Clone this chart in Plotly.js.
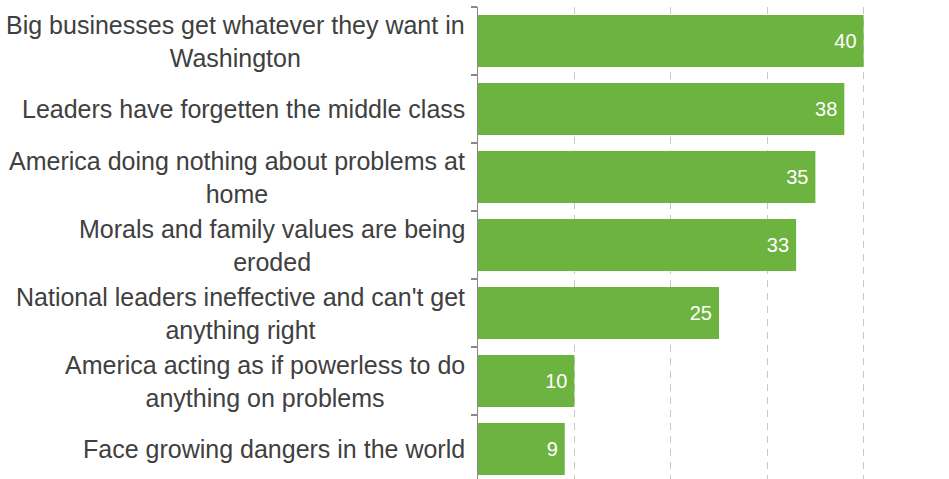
<!DOCTYPE html>
<html>
<head>
<meta charset="utf-8">
<script src="https://cdn.plot.ly/plotly-3.0.1.min.js"></script>
<style>html,body{margin:0;padding:0;background:#fff;}#chart{width:949px;height:479px;}</style>
</head>
<body>
<div id="chart"></div>
<script>
var categories = [
  "Big businesses get whatever they want in<br>Washington",
  "Leaders have forgetten the middle class",
  "America doing nothing about problems at<br>home",
  "Morals and family values are being<br>eroded",
  "National leaders ineffective and can't get<br>anything right",
  "America acting as if powerless to do<br>anything on problems",
  "Face growing dangers in the world"
];
var values = [40, 38, 35, 33, 25, 10, 9];
var gridTicks = [10, 20, 30, 40];

var trace = {
  type: 'bar',
  orientation: 'h',
  y: categories,
  x: values,
  text: values.map(function(v){ return String(v) + '\u2009'; }),
  textposition: 'inside',
  insidetextanchor: 'end',
  textfont: {family: 'Liberation Sans, Arial, sans-serif', size: 20, color: '#ffffff'},
  marker: {color: '#6DB33F', line: {width: 0}},
  hoverinfo: 'none',
  cliponaxis: false
};

var annotations = categories.map(function(c){
  return {
    text: c, x: 0, xref: 'paper', y: c, yref: 'y',
    xanchor: 'right', yanchor: 'middle', xshift: -11,
    align: 'center', showarrow: false,
    font: {family: 'Liberation Sans, Arial, sans-serif', size: 25, color: '#404040'}
  };
});

var layout = {
  width: 949, height: 479,
  margin: {l: 478, r: 0, t: 7, b: 0, pad: 0},
  paper_bgcolor: '#ffffff', plot_bgcolor: '#ffffff',
  showlegend: false,
  bargap: 0.235,
  font: {family: 'Liberation Sans, Arial, sans-serif'},
  xaxis: {
    range: [0, 48.86],
    tickmode: 'array', tickvals: gridTicks,
    showticklabels: false, ticks: '',
    showgrid: true, gridcolor: '#c8c8c8', gridwidth: 1.2, griddash: '7px,6px',
    zeroline: false, showline: false, fixedrange: true
  },
  yaxis: {
    type: 'category',
    range: [6.44, -0.5],
    showticklabels: false,
    ticks: 'outside', ticklen: 6, tickwidth: 1.5, tickcolor: '#898989',
    tickson: 'boundaries',
    showline: true, linecolor: '#898989', linewidth: 1.5,
    showgrid: false, zeroline: false, fixedrange: true
  },
  annotations: annotations
};

Plotly.newPlot('chart', [trace], layout, {displayModeBar: false, staticPlot: true});
</script>
</body>
</html>
